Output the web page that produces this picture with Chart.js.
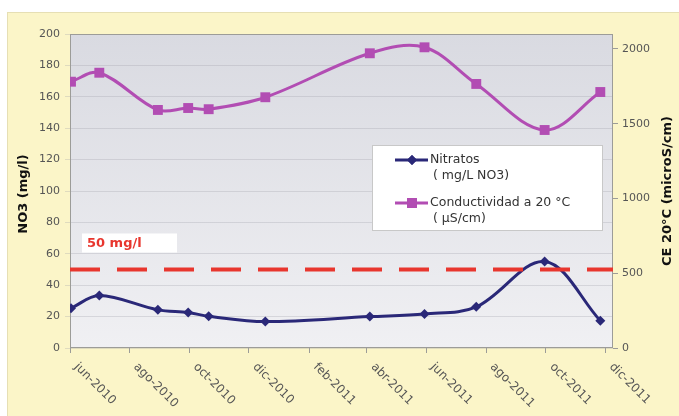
<!DOCTYPE html>
<html>
<head>
<meta charset="utf-8">
<script src="https://cdn.jsdelivr.net/npm/chart.js@4.4.1/dist/chart.umd.min.js"></script>
<style>
  body { margin: 0; background: #ffffff; }
  canvas { display: block; }
</style>
</head>
<body>
<canvas id="grafico" width="679" height="416"></canvas>
<script>
// datos
const fechas = ['2010-06-02', '2010-07-01', '2010-08-30', '2010-09-30', '2010-10-21', '2010-12-18',
                '2011-04-04', '2011-05-30', '2011-07-22', '2011-09-30', '2011-11-26'];
const nitratos = [25.3, 33.4, 24.3, 22.6, 20.2, 16.8, 20.0, 21.7, 26.2, 55.1, 17.4];
const conductividad = [1781, 1841, 1592, 1605, 1597, 1677, 1971, 2011, 1766, 1458, 1712];
const limite = 50;

const etiquetasX = ['jun-2010', 'ago-2010', 'oct-2010', 'dic-2010', 'feb-2011', 'abr-2011',
                    'jun-2011', 'ago-2011', 'oct-2011', 'dic-2011'];
const fechasEtiquetas = ['2010-06-01', '2010-08-01', '2010-10-01', '2010-12-01', '2011-02-01', '2011-04-01',
                         '2011-06-01', '2011-08-01', '2011-10-01', '2011-12-01'];
const ticksCE = [0, 500, 1000, 1500, 2000];

const dia = (s) => Date.parse(s + 'T00:00:00Z') / 86400000;
const xMin = dia(fechasEtiquetas[0]);
const xMax = xMin + 556;

const serieNitratos = fechas.map((f, i) => ({ x: dia(f), y: nitratos[i] }));
const serieCond = fechas.map((f, i) => ({ x: dia(f), y: conductividad[i] }));
const serieLimite = [{ x: xMin, y: limite }, { x: xMax, y: limite }];

const colorNitratos = '#2a2878';
const colorCond = '#b24db3';
const colorLimite = '#e8362e';

const deco = {
  id: 'deco',
  beforeDraw(chart) {
    const { ctx, chartArea: a } = chart;
    ctx.save();
    ctx.fillStyle = '#ffffff';
    ctx.fillRect(0, 0, chart.width, chart.height);
    ctx.fillStyle = '#fbf5c8';
    ctx.fillRect(7, 12, chart.width - 7, chart.height - 12);
    ctx.strokeStyle = '#e6dfb4';
    ctx.lineWidth = 1;
    ctx.strokeRect(7.5, 12.5, chart.width, chart.height);
    const g = ctx.createLinearGradient(0, a.top, 0, a.bottom);
    g.addColorStop(0, '#d9dae1');
    g.addColorStop(1, '#f0f0f3');
    ctx.fillStyle = g;
    ctx.fillRect(a.left, a.top, a.width, a.height);
    ctx.restore();
  },
  beforeDatasetsDraw(chart) {
    const { ctx, chartArea: a } = chart;
    ctx.save();
    ctx.strokeStyle = '#9c9c98';
    ctx.lineWidth = 1;
    ctx.strokeRect(a.left + 0.5, a.top + 0.5, a.width - 1, a.height - 1);

    // caja "50 mg/l"
    const y50 = chart.scales.y.getPixelForValue(limite);
    ctx.fillStyle = '#ffffff';
    ctx.fillRect(a.left + 12, y50 - 36, 95, 19);
    ctx.fillStyle = colorLimite;
    ctx.font = 'bold 13px "DejaVu Sans"';
    ctx.textBaseline = 'middle';
    ctx.fillText('50 mg/l', a.left + 17, y50 - 26);
    ctx.restore();
  },
  afterDraw(chart) {
    const { ctx, chartArea: a } = chart;
    const sx = chart.scales.x;
    ctx.save();

    // etiquetas del eje x, giradas hacia abajo
    ctx.fillStyle = '#555555';
    ctx.font = '12px "DejaVu Sans"';
    ctx.textAlign = 'left';
    ctx.textBaseline = 'middle';
    etiquetasX.forEach((t, i) => {
      const px = sx.getPixelForValue(dia(fechasEtiquetas[i]));
      ctx.save();
      ctx.translate(px + 6, a.bottom + 17);
      ctx.rotate(Math.PI / 4);
      ctx.fillText(t, 0, 0);
      ctx.restore();
    });

    // titulos de los ejes
    const cy = (a.top + a.bottom) / 2;
    ctx.fillStyle = '#111111';
    ctx.font = 'bold 13px "DejaVu Sans"';
    ctx.textAlign = 'center';
    ctx.save();
    ctx.translate(24, cy + 3);
    ctx.rotate(-Math.PI / 2);
    ctx.fillText('NO3 (mg/l)', 0, 0);
    ctx.restore();
    ctx.save();
    ctx.translate(668, cy);
    ctx.rotate(-Math.PI / 2);
    ctx.fillText('CE 20°C (microS/cm)', 0, 0);
    ctx.restore();

    // leyenda
    const lx = a.left + 302, ly = a.top + 111;
    ctx.fillStyle = '#ffffff';
    ctx.fillRect(lx, ly, 231, 86);
    ctx.strokeStyle = '#c8c8c8';
    ctx.strokeRect(lx + 0.5, ly + 0.5, 230, 85);
    const items = [
      { color: colorNitratos, style: 'rectRot', r: 5, lines: ['Nitratos', '( mg/L NO3)'], y: ly + 15 },
      { color: colorCond, style: 'rect', r: 7, lines: ['Conductividad a 20 °C', '( µS/cm)'], y: ly + 58 }
    ];
    items.forEach(it => {
      ctx.strokeStyle = it.color;
      ctx.lineWidth = 3;
      ctx.beginPath();
      ctx.moveTo(lx + 23, it.y);
      ctx.lineTo(lx + 56, it.y);
      ctx.stroke();
      ctx.fillStyle = it.color;
      Chart.helpers.drawPoint(ctx, { pointStyle: it.style, radius: it.r, borderWidth: 0 }, lx + 40, it.y);
      ctx.fill();
      ctx.fillStyle = '#333333';
      ctx.font = '12.5px "DejaVu Sans"';
      ctx.textAlign = 'left';
      ctx.textBaseline = 'middle';
      ctx.fillText(it.lines[0], lx + 58, it.y);
      ctx.fillText(it.lines[1], lx + 61, it.y + 16);
    });
    ctx.restore();
  }
};

new Chart(document.getElementById('grafico'), {
  type: 'line',
  data: {
    datasets: [
      {
        label: 'Límite 50 mg/l',
        data: serieLimite,
        yAxisID: 'y',
        borderColor: colorLimite,
        borderWidth: 4,
        borderDash: [30, 17],
        pointRadius: 0,
        tension: 0,
        order: 0
      },
      {
        label: 'Nitratos ( mg/L NO3)',
        data: serieNitratos,
        yAxisID: 'y',
        borderColor: colorNitratos,
        backgroundColor: colorNitratos,
        borderWidth: 3,
        pointStyle: 'rectRot',
        pointRadius: 5,
        pointBorderWidth: 0,
        tension: 0.35,
        order: 1
      },
      {
        label: 'Conductividad a 20 °C ( µS/cm)',
        data: serieCond,
        yAxisID: 'y2',
        borderColor: colorCond,
        backgroundColor: colorCond,
        borderWidth: 3,
        pointStyle: 'rect',
        pointRadius: 7,
        pointBorderWidth: 0,
        tension: 0.35,
        order: 2
      }
    ]
  },
  options: {
    responsive: false,
    animation: false,
    layout: { padding: { top: 34, left: 0, right: 0, bottom: 0 } },
    plugins: { legend: { display: false }, tooltip: { enabled: false } },
    scales: {
      x: {
        type: 'linear',
        min: xMin,
        max: xMax,
        afterBuildTicks: (s) => { s.ticks = fechasEtiquetas.map(f => ({ value: dia(f) })); },
        afterFit: (s) => { s.height = 68; },
        ticks: { display: false },
        grid: { drawOnChartArea: false, tickLength: 5, color: '#9c9c98' },
        border: { display: false }
      },
      y: {
        position: 'left',
        min: 0,
        max: 200,
        afterFit: (s) => { s.width = 70; },
        ticks: { stepSize: 20, padding: 5, color: '#555555', font: { family: 'DejaVu Sans', size: 11 } },
        grid: { color: 'rgba(160,160,170,0.3)', tickLength: 5 },
        border: { display: false }
      },
      y2: {
        position: 'right',
        min: 0,
        max: 2100,
        afterBuildTicks: (s) => { s.ticks = ticksCE.map(v => ({ value: v })); },
        afterFit: (s) => { s.width = 66; },
        ticks: { padding: 4, color: '#555555', font: { family: 'DejaVu Sans', size: 11 },
                 callback: (v) => String(v) },
        grid: { drawOnChartArea: false, tickLength: 5, color: '#9c9c98' },
        border: { display: false }
      }
    }
  },
  plugins: [deco]
});
</script>
</body>
</html>
